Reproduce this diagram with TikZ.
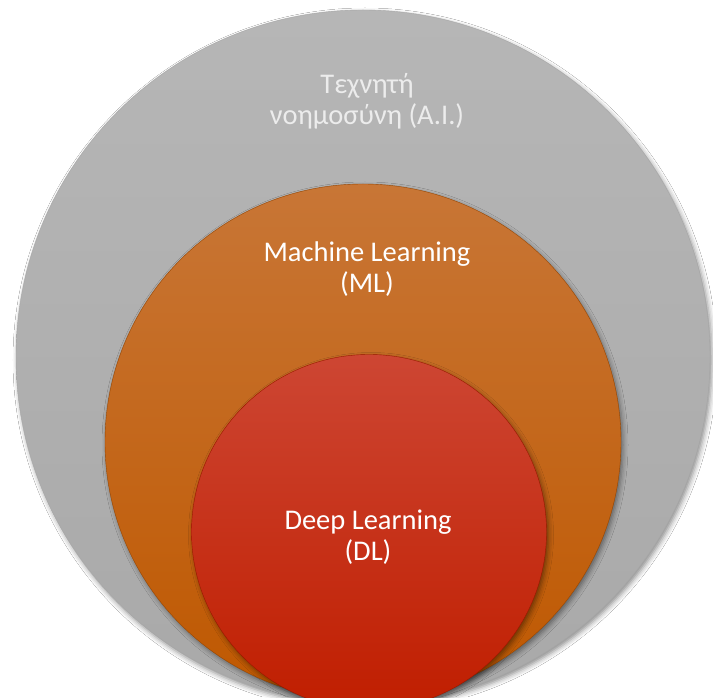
\documentclass[tikz,border=0pt]{standalone}
\usepackage{fontspec}
\setmainfont{Carlito}
\usetikzlibrary{shadows.blur}
\definecolor{aitop}{HTML}{B6B6B6}
\definecolor{aibot}{HTML}{A9A9A9}
\definecolor{mltop}{HTML}{C87636}
\definecolor{mlbot}{HTML}{BF5800}
\definecolor{dltop}{HTML}{CD4633}
\definecolor{dlbot}{HTML}{C01E00}
\definecolor{aitext}{HTML}{ECECEC}
\tikzset{
  ring/.style={circle, inner sep=0pt, draw=black!35, line width=0.4pt,
    blur shadow={shadow xshift=2pt, shadow yshift=-3pt, shadow blur radius=5pt, shadow opacity=45}},
  lbl/.style={align=center, font=\fontsize{28.5}{31}\selectfont, inner sep=0pt}
}
\begin{document}
\begin{tikzpicture}[x=1pt,y=1pt]
\useasboundingbox (0,0) rectangle (713,697);
\fill[white] (0,0) rectangle (713,697);
\node[ring, minimum size=694pt, top color=aitop, bottom color=aibot] (ai) at (363,340) {};
\node[ring, minimum size=516pt, top color=mltop, bottom color=mlbot, draw=mlbot!80!black] (ml) at (363,255) {};
\node[ring, minimum size=355pt, top color=dltop, bottom color=dlbot, draw=dlbot!80!black] (dl) at (369,165) {};
\node[lbl, text=aitext] (ailbl) at (367,596) {Τεχνητή\\νοημοσύνη (A.I.)};
\node[lbl, text=white] (mllbl) at (367,428) {Machine Learning\\(ML)};
\node[lbl, text=white] (dllbl) at (368,160) {Deep Learning\\(DL)};
\end{tikzpicture}
\end{document}
